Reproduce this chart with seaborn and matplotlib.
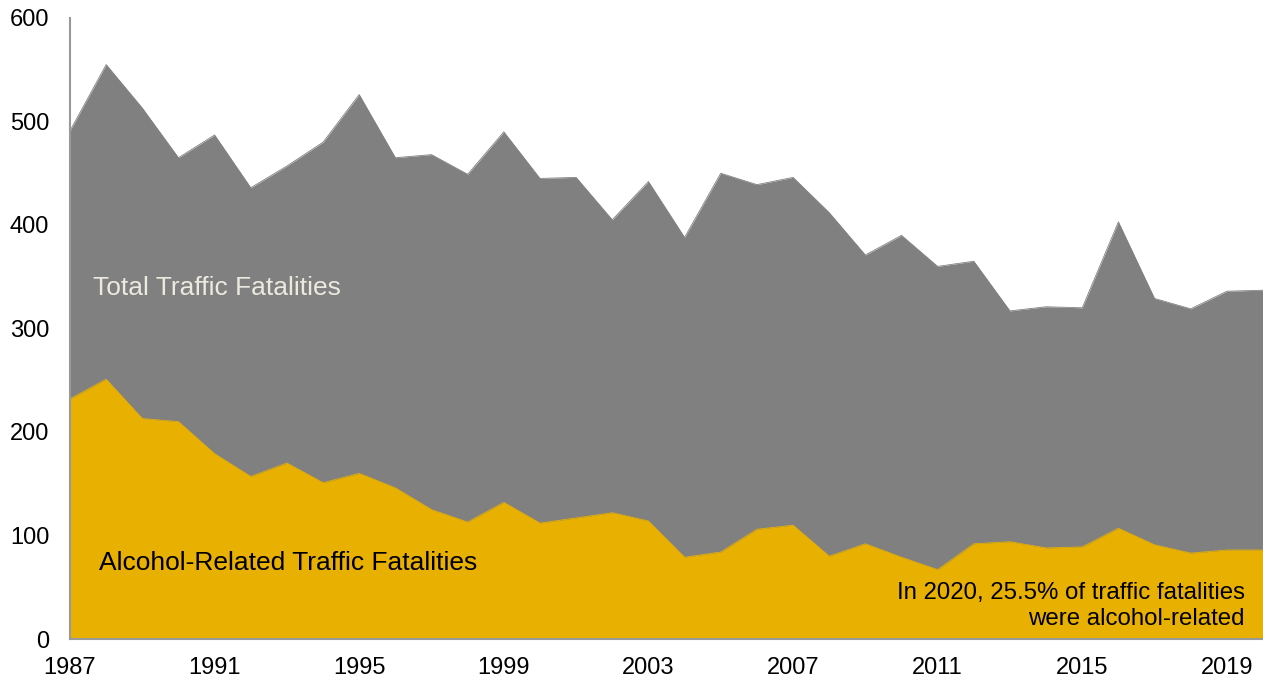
import matplotlib
matplotlib.use("Agg")
import matplotlib.pyplot as plt
import seaborn as sns
import pandas as pd

years = list(range(1987, 2021))
total_fatalities = [491, 555, 513, 465, 487, 436, 457, 480, 526, 465,
                    468, 449, 490, 445, 446, 405, 442, 388, 450, 439,
                    446, 412, 371, 390, 360, 365, 317, 321, 320, 403,
                    329, 319, 336, 337]
alcohol_fatalities = [232, 251, 213, 210, 179, 157, 170, 151, 160, 146,
                      125, 113, 132, 112, 117, 122, 114, 79, 84, 106,
                      110, 80, 92, 79, 67, 92, 94, 88, 89, 107,
                      91, 83, 86, 86]
y_ticks = [0, 100, 200, 300, 400, 500, 600]
x_label_years = list(range(1987, 2020, 4))

df = pd.DataFrame({"year": years, "total": total_fatalities, "alcohol": alcohol_fatalities})

sns.set_theme(style="white")
plt.rcParams["font.family"] = ["Liberation Sans", "DejaVu Sans"]

grey = "#808080"
gold = "#E8B000"

fig = plt.figure(figsize=(12.63, 6.82), dpi=100)
ax = fig.add_axes([70 / 1263, 43 / 682, 1 - 70 / 1263, (639 - 18) / 682])

ax.fill_between(df["year"], 0, df["total"], color=grey, linewidth=0, zorder=1)
ax.fill_between(df["year"], 0, df["alcohol"], color=gold, linewidth=0, zorder=2)
sns.lineplot(data=df, x="year", y="total", ax=ax, color=grey, linewidth=0.6, zorder=1)
sns.lineplot(data=df, x="year", y="alcohol", ax=ax, color=gold, linewidth=0.6, zorder=2)

ax.set_xlim(1987, 2020)
ax.set_ylim(0, 600)
ax.set_xticks(years, minor=False)
ax.set_xticklabels([str(y) if y in x_label_years else "" for y in years])
ax.set_yticks(y_ticks)
ax.set_yticklabels([str(v) for v in y_ticks])
ax.set_xlabel("")
ax.set_ylabel("")

for side in ["top", "right"]:
    ax.spines[side].set_visible(False)
for side in ["left", "bottom"]:
    ax.spines[side].set_color("#999999")
    ax.spines[side].set_linewidth(1.5)
    ax.spines[side].set_zorder(5)

ax.tick_params(axis="both", which="major", direction="out", length=5, width=1.3,
               color="#999999", labelsize=17, labelcolor="black")
ax.tick_params(axis="x", pad=7, length=6)
ax.tick_params(axis="y", pad=10)

ax.text(1987.65, 339, "Total Traffic Fatalities", color="#ECE9DF", fontsize=19,
        ha="left", va="center", zorder=6)
ax.text(1987.8, 73, "Alcohol-Related Traffic Fatalities", color="black", fontsize=19,
        ha="left", va="center", zorder=6)
ax.text(2019.5, 32, "In 2020, 25.5% of traffic fatalities\nwere alcohol-related",
        color="black", fontsize=17.3, ha="right", va="center", multialignment="right",
        linespacing=1.27, zorder=6)

fig.savefig("out.png", dpi=100)
